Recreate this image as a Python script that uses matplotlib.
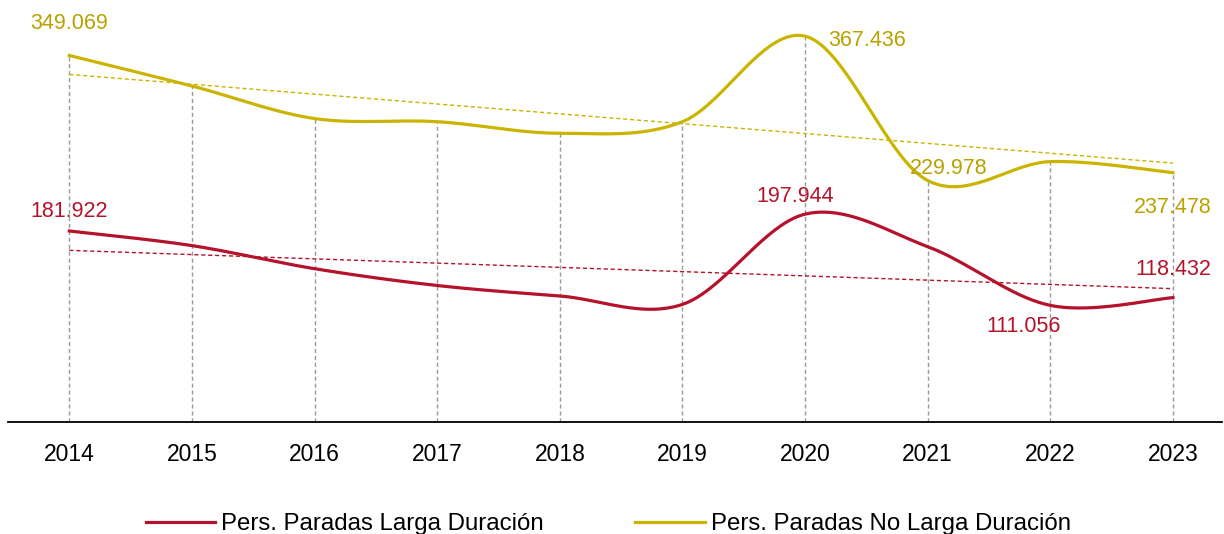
import numpy as np
import matplotlib.pyplot as plt

plt.rcParams['font.family'] = ['Liberation Sans', 'DejaVu Sans']

# Datos (miles de personas)
years = ['2014', '2015', '2016', '2017', '2018', '2019', '2020', '2021', '2022', '2023']
larga = [181.922, 168, 146, 130, 120, 112, 197.944, 167, 111.056, 118.432]
no_larga = [349.069, 320, 289, 286, 275, 286, 367.436, 229.978, 248, 237.478]

red = '#B5122B'
yellow = '#C9B500'
yellow_txt = '#B8A100'


def smooth(x, y, n=40):
    # curva suavizada tipo Excel (Bezier Catmull-Rom)
    x = np.asarray(x, float)
    y = np.asarray(y, float)
    pts = np.column_stack([x, y])
    out = []
    for i in range(len(pts) - 1):
        p0 = pts[max(i - 1, 0)]
        p1 = pts[i]
        p2 = pts[i + 1]
        p3 = pts[min(i + 2, len(pts) - 1)]
        c1 = p1 + (p2 - p0) / 6
        c2 = p2 - (p3 - p1) / 6
        t = np.linspace(0, 1, n)[:, None]
        seg = ((1 - t) ** 3) * p1 + 3 * ((1 - t) ** 2) * t * c1 + 3 * (1 - t) * t ** 2 * c2 + t ** 3 * p2
        out.append(seg if i == 0 else seg[1:])
    out = np.vstack(out)
    return out[:, 0], out[:, 1]


fig = plt.figure(figsize=(12.24, 5.34), dpi=100)
ax = fig.add_axes([8 / 1224, 1 - 422 / 534, 1214 / 1224, 420 / 534])

xs = np.arange(len(years))

# lineas de proyeccion
top = np.maximum(larga, no_larga)
ax.vlines(xs, 0, top, colors='#9A9A9A', linestyles=(0, (3, 2)), linewidth=1, zorder=1)

# series suavizadas
sx, sy = smooth(xs, no_larga)
ax.plot(sx, sy, color=yellow, lw=2.3, label='Pers. Paradas No Larga Duración', zorder=3)
sx, sy = smooth(xs, larga)
ax.plot(sx, sy, color=red, lw=2.3, label='Pers. Paradas Larga Duración', zorder=3)

# lineas de tendencia
for vals, col in [(no_larga, yellow), (larga, red)]:
    m, b = np.polyfit(xs, vals, 1)
    ax.plot(xs, m * xs + b, color=col, lw=1, linestyle=(0, (3, 2)), zorder=2)

# etiquetas de datos
labels = [
    (0, no_larga[0], '349.069', yellow_txt, (0, 23), 'center'),
    (6, no_larga[6], '367.436', yellow_txt, (17, -3), 'left'),
    (7, no_larga[7], '229.978', yellow_txt, (15, 9), 'center'),
    (9, no_larga[9], '237.478', yellow_txt, (0, -25), 'center'),
    (0, larga[0], '181.922', red, (0, 14), 'center'),
    (6, larga[6], '197.944', red, (-7, 13), 'center'),
    (8, larga[8], '111.056', red, (-19, -15), 'center'),
    (9, larga[9], '118.432', red, (0, 20), 'center'),
]
for xi, yi, txt, col, off, ha in labels:
    ax.annotate(txt, (xi, yi), xytext=off, textcoords='offset points',
                ha=ha, va='center', color=col, fontsize=15.5)

ax.set_xlim(-0.5, 9.4)
ax.set_ylim(0, 400)
ax.set_xticks(xs)
ax.set_xticklabels(years, fontsize=16.5)
ax.tick_params(axis='x', length=0, pad=15)
ax.set_yticks([])
for s in ['top', 'right', 'left']:
    ax.spines[s].set_visible(False)
ax.spines['bottom'].set_linewidth(1.3)

handles, labs = ax.get_legend_handles_labels()
fig.legend(handles[::-1], labs[::-1], loc='center', bbox_to_anchor=(0.497, 0.018),
           ncol=2, frameon=False, fontsize=17.3, handlelength=2.9, handletextpad=0.25,
           columnspacing=3.8)

fig.savefig('out.png', dpi=100)
